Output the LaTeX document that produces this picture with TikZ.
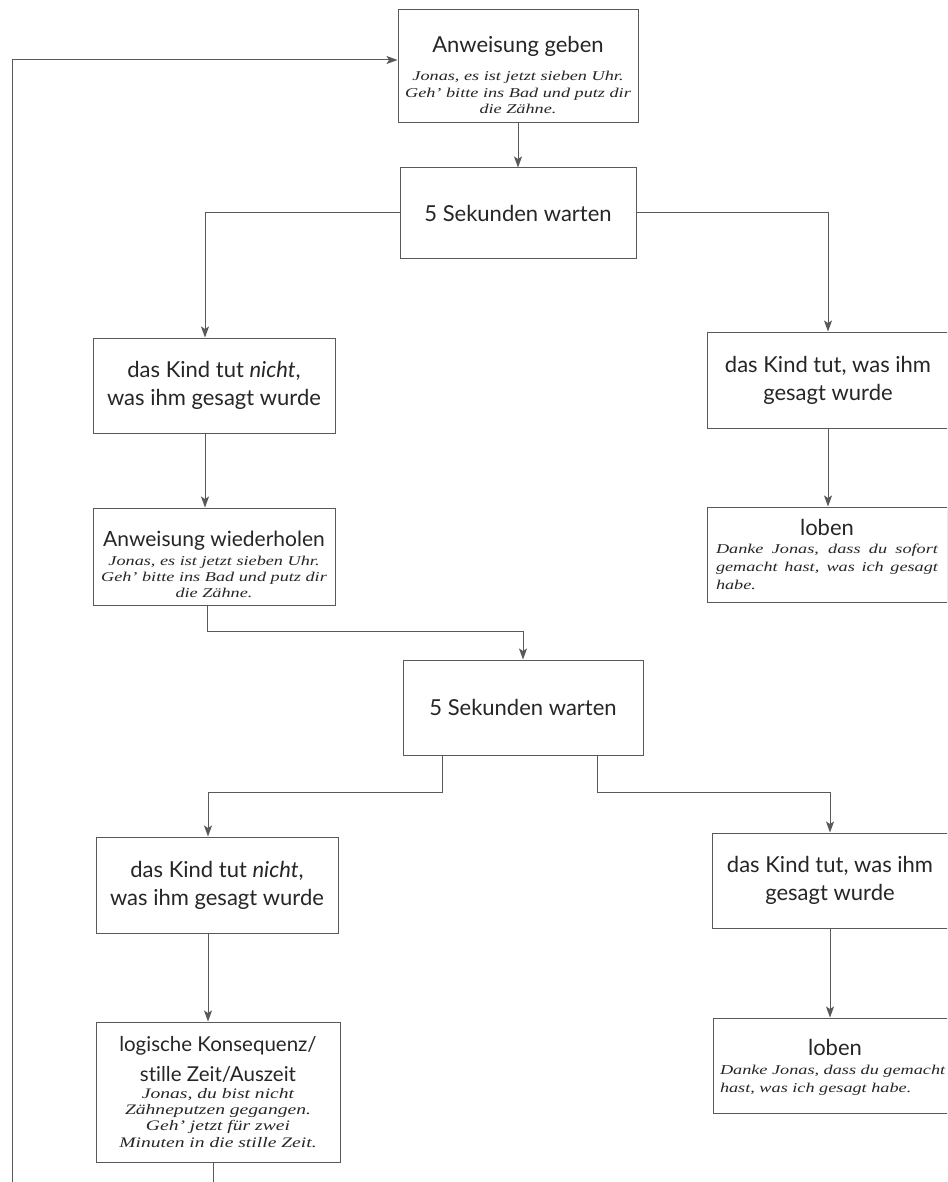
\documentclass[tikz,border=0pt]{standalone}
\usepackage{fontspec}
\setmainfont{Lato}[Ligatures=NoCommon]
\newfontfamily\exfont[FakeStretch=1.35]{Liberation Serif}
\usetikzlibrary{arrows.meta,calc}
\newcommand{\ttlsize}{\fontsize{22}{28}\selectfont}
\newcommand{\exsize}{\exfont\itshape\fontsize{13.5}{16.3}\selectfont}
\newcommand{\lft}{\leftskip=0pt\rightskip=0pt plus 1fil\relax}
\begin{document}
\begin{tikzpicture}[x=1pt,y=-1pt,
  box/.style={draw=black!65, line width=1pt, rectangle, inner sep=0pt,
    align=flush center, text=black!85, font=\ttlsize},
  arr/.style={draw=black!65, line width=1pt,
    -{Stealth[length=11pt,width=8pt,inset=2.5pt]}}]
\useasboundingbox (0,0) rectangle (947,1182);
\clip (0,0) rectangle (947,1182);
\fill[white] (0,0) rectangle (947,1182);

% nodes
\node[box, minimum width=240pt, minimum height=113pt, text width=236pt] (b1) at (518,66.5)
 {{\ttlsize\rule{0pt}{33pt}Anweisung geben\par}\vspace{12pt}{\exsize Jonas, es ist jetzt sieben Uhr.\\ \mbox{Geh’ bitte ins Bad und putz dir}\\ die Zähne.\par}};
\node[box, minimum width=236pt, minimum height=90pt, text width=226pt] (b2) at (518,213)
 {5 Sekunden warten};
\node[box, minimum width=242pt, minimum height=95pt, text width=236pt] (b3) at (214,385.5)
 {das Kind tut \textit{nicht},\\ was ihm gesagt wurde};
\node[box, minimum width=242pt, minimum height=96pt, text width=236pt] (b4) at (828,380)
 {das Kind tut, was ihm\\ gesagt wurde};
\node[box, minimum width=242pt, minimum height=97pt, text width=240pt] (b5) at (214,556.5)
 {{\fontsize{21}{25}\selectfont\rule{0pt}{32pt}Anweisung wiederholen\par}\vspace{2pt}{\exsize Jonas, es ist jetzt sieben Uhr.\\ \mbox{Geh’ bitte ins Bad und putz dir}\\ die Zähne.\par}};
\node[box, minimum width=240pt, minimum height=95pt, text width=222pt] (b6) at (827,554.5)
 {{\ttlsize loben\par}{\exsize\fontsize{13.5}{18.3}\selectfont\leftskip=0pt\rightskip=0pt\makebox[\linewidth][s]{Danke Jonas, dass du sofort}\\ \makebox[\linewidth][s]{gemacht hast, was ich gesagt}\\ habe.\hfill\par}};
\node[box, minimum width=240pt, minimum height=95pt, text width=230pt] (b7) at (523,707.5)
 {5 Sekunden warten};
\node[box, minimum width=242pt, minimum height=96pt, text width=236pt] (b8) at (217,885)
 {das Kind tut \textit{nicht},\\ was ihm gesagt wurde};
\node[box, minimum width=236pt, minimum height=95pt, text width=230pt] (b9) at (830,880.5)
 {das Kind tut, was ihm\\ gesagt wurde};
\node[box, minimum width=244pt, minimum height=140pt, text width=238pt] (b10) at (218,1092)
 {{\fontsize{20.5}{30}\selectfont logische Konsequenz/\\ stille Zeit/Auszeit\par}{\exsize\fontsize{14.5}{16.3}\selectfont Jonas, du bist nicht\\ Zähneputzen gegangen.\\ Geh’ jetzt für zwei\\ \mbox{Minuten in die stille Zeit.}\par}};
\node[box, minimum width=244pt, minimum height=95pt, text width=230pt] (b11) at (835,1065.5)
 {{\ttlsize\rule{0pt}{20pt}loben\par}{\exsize\fontsize{13.5}{18.3}\selectfont\lft \mbox{Danke Jonas, dass du gemacht}\\ \mbox{hast, was ich gesagt habe.}\par}};

% loop coordinates
\coordinate (lb) at (12,1210);
\coordinate (lt) at (12,60);

% connectors
\draw[arr] (b1.south) -- (b2.north);
\draw[arr] (b2.west) -| ([xshift=-9pt]b3.north);
\draw[arr] (b2.east) -| (b4.north);
\draw[arr] ([xshift=-9pt]b3.south) -- ([xshift=-9pt]b3.south |- b5.north);
\draw[arr] (b4.south) -- (b4.south |- b6.north);
\draw[arr] ([xshift=-7pt]b5.south) |- ($(b7.north)+(0,-28)$) -- (b7.north);
\draw[arr] ([xshift=-81pt]b7.south) |- ($([xshift=-9pt]b8.north)+(0,-44)$) -- ([xshift=-9pt]b8.north);
\draw[arr] ([xshift=74pt]b7.south) |- ($(b9.north)+(0,-40)$) -- (b9.north);
\draw[arr] ([xshift=-9pt]b8.south) -- ([xshift=-9pt]b8.south |- b10.north);
\draw[arr] (b9.south) -- (b9.south |- b11.north);
\draw[arr] ([xshift=-5pt]b10.south) |- (lb) -- (lt) -- (lt -| b1.west);
\end{tikzpicture}
\end{document}
